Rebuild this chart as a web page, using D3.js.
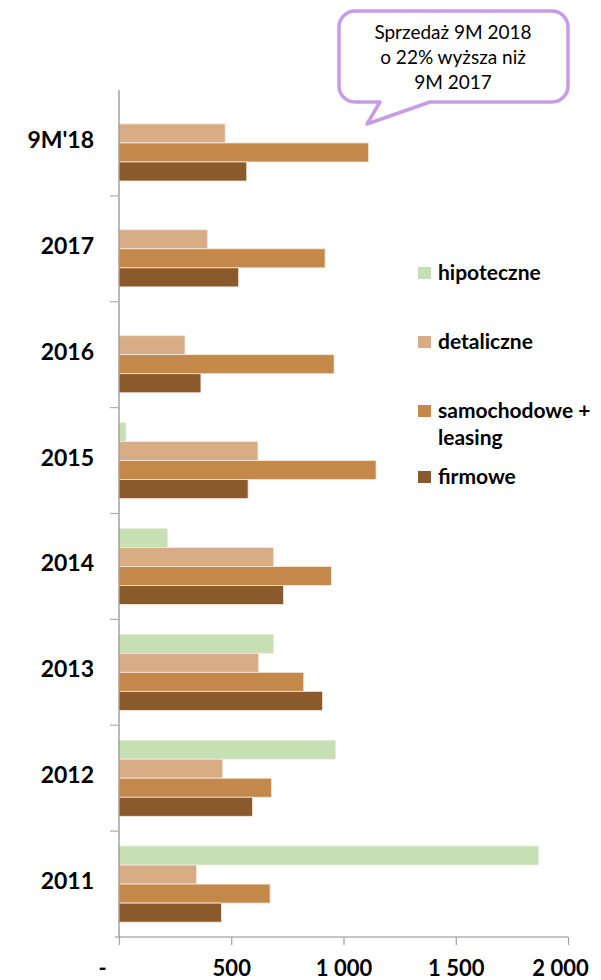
<!DOCTYPE html>
<html>
<head>
<meta charset="utf-8">
<script src="https://cdn.jsdelivr.net/npm/d3@7"></script>
<style>
  html, body { margin: 0; padding: 0; background: #fff; }
  svg { display: block; }
  text { font-family: Lato, "Open Sans", sans-serif; }
</style>
</head>
<body>
<script>
// Categories, top to bottom
const categories = ["9M'18", "2017", "2016", "2015", "2014", "2013", "2012", "2011"];

// Series (in draw order within each group, top to bottom)
const seriesNames = ["hipoteczne", "detaliczne", "samochodowe + leasing", "firmowe"];
const seriesColors = ["#C6E0B4", "#D8AD86", "#C4884A", "#8A5A2C"];

const hipoteczne  = [0,    0,   0,   31,  217, 689, 965, 1869];
const detaliczne  = [473,  395, 294, 619, 689, 622, 462, 346];
const samochodowe = [1112, 918, 958, 1145, 947, 823, 680, 673];
const firmowe     = [569,  533, 365, 575, 733, 907, 595, 457];

const xTicks = [0, 500, 1000, 1500, 2000];
const xTickLabels = ["-", "500", "1 000", "1 500", "2 000"];

const calloutLines = ["Sprzedaż 9M 2018", "o 22% wyższa niż", "9M 2017"];

const W = 601, H = 980;
const svg = d3.select("body").append("svg").attr("width", W).attr("height", H);

const x = d3.scaleLinear().domain([0, 2000]).range([119, 568]);
const y = d3.scaleBand().domain(categories).range([90, 937]).paddingInner(0).paddingOuter(0);
const inner = d3.scaleBand().domain(seriesNames)
  .range([0, y.bandwidth()]).paddingInner(0).paddingOuter(0.78);

const values = [hipoteczne, detaliczne, samochodowe, firmowe];

// bars
const groups = svg.append("g").selectAll("g").data(categories).join("g")
  .attr("transform", d => `translate(0,${y(d)})`);

groups.selectAll("rect")
  .data((c, i) => seriesNames.map((s, k) => ({ s, k, v: values[k][i] })).filter(d => d.v > 0))
  .join("rect")
  .attr("x", x(0))
  .attr("y", d => inner(d.s))
  .attr("width", d => x(d.v) - x(0))
  .attr("height", inner.bandwidth())
  .attr("fill", d => seriesColors[d.k])
  .attr("stroke", "#f3ebe2")
  .attr("stroke-width", 0.8);

// category axis with ticks at band boundaries pointing left
const axisColor = "#8c8c8c";
const yAxis = svg.append("g");
yAxis.append("line")
  .attr("x1", x(0)).attr("x2", x(0))
  .attr("y1", y.range()[0]).attr("y2", y.range()[1])
  .attr("stroke", axisColor).attr("stroke-width", 1.2);
const bounds = categories.map(c => y(c)).concat([y.range()[1]]);
yAxis.selectAll("line.tk").data(bounds.slice(1, -1)).join("line")
  .attr("class", "tk")
  .attr("x1", x(0) - 9).attr("x2", x(0))
  .attr("y1", d => d).attr("y2", d => d)
  .attr("stroke", "#b0b0b0").attr("stroke-width", 1.2);
yAxis.selectAll("text").data(categories).join("text")
  .attr("x", 94)
  .attr("y", d => y(d) + y.bandwidth() / 2 - 3)
  .attr("dy", "0.35em")
  .attr("text-anchor", "end")
  .attr("font-size", 23)
  .attr("font-weight", "bold")
  .attr("fill", "#000")
  .text(d => d);

// value axis
const xAxis = d3.axisBottom(x).tickValues(xTicks)
  .tickFormat((d, i) => xTickLabels[i]).tickSize(8);
const gx = svg.append("g").attr("transform", `translate(0,${y.range()[1]})`).call(xAxis);
gx.select(".domain").attr("stroke", axisColor).attr("stroke-width", 1.2)
  .attr("d", `M${x(0) - 4},0H${x(2000)}`);
gx.selectAll(".tick line").attr("stroke", "#a0a0a0").attr("stroke-width", 1.2);
gx.selectAll(".tick text")
  .attr("font-family", "Lato, sans-serif")
  .attr("y", 39).attr("dy", 0)
  .attr("font-size", 22).attr("font-weight", "bold").attr("fill", "#000");
gx.selectAll(".tick").filter(d => d === 0).select("text").attr("dx", -17);
gx.selectAll(".tick").filter(d => d === 2000).select("text").attr("dx", -8);

// legend
const legendItems = [
  { k: 0, lines: ["hipoteczne"], y: 273 },
  { k: 1, lines: ["detaliczne"], y: 342 },
  { k: 2, lines: ["samochodowe +", "leasing"], y: 411 },
  { k: 3, lines: ["firmowe"], y: 477 }
];
const lg = svg.append("g").selectAll("g").data(legendItems).join("g")
  .attr("transform", d => `translate(418,${d.y})`);
lg.append("rect").attr("x", 0).attr("y", -6).attr("width", 13).attr("height", 12)
  .attr("fill", d => seriesColors[d.k]);
lg.selectAll("text").data(d => d.lines).join("text")
  .attr("x", 20).attr("y", (d, i) => i * 27).attr("dy", "0.35em")
  .attr("font-size", 21).attr("font-weight", "bold").attr("fill", "#000")
  .text(d => d);

// callout bubble
const bx0 = 339, bx1 = 568, by0 = 11, by1 = 102, r = 16;
const tail = { a: 380, tipX: 367, tipY: 124, b: 430 };
const path = d3.path();
path.moveTo(bx0 + r, by0);
path.lineTo(bx1 - r, by0);
path.arcTo(bx1, by0, bx1, by0 + r, r);
path.lineTo(bx1, by1 - r);
path.arcTo(bx1, by1, bx1 - r, by1, r);
path.lineTo(tail.b, by1);
path.lineTo(tail.tipX, tail.tipY);
path.lineTo(tail.a, by1);
path.lineTo(bx0 + r, by1);
path.arcTo(bx0, by1, bx0, by1 - r, r);
path.lineTo(bx0, by0 + r);
path.arcTo(bx0, by0, bx0 + r, by0, r);
path.closePath();
svg.append("path").attr("d", path.toString())
  .attr("fill", "#fff").attr("stroke", "#C89BE6").attr("stroke-width", 3.5)
  .attr("stroke-linejoin", "round");
svg.append("g").selectAll("text").data(calloutLines).join("text")
  .attr("x", 453).attr("y", (d, i) => 32 + i * 25).attr("dy", "0.35em")
  .attr("text-anchor", "middle").attr("font-size", 19).attr("fill", "#000")
  .text(d => d);
</script>
</body>
</html>
